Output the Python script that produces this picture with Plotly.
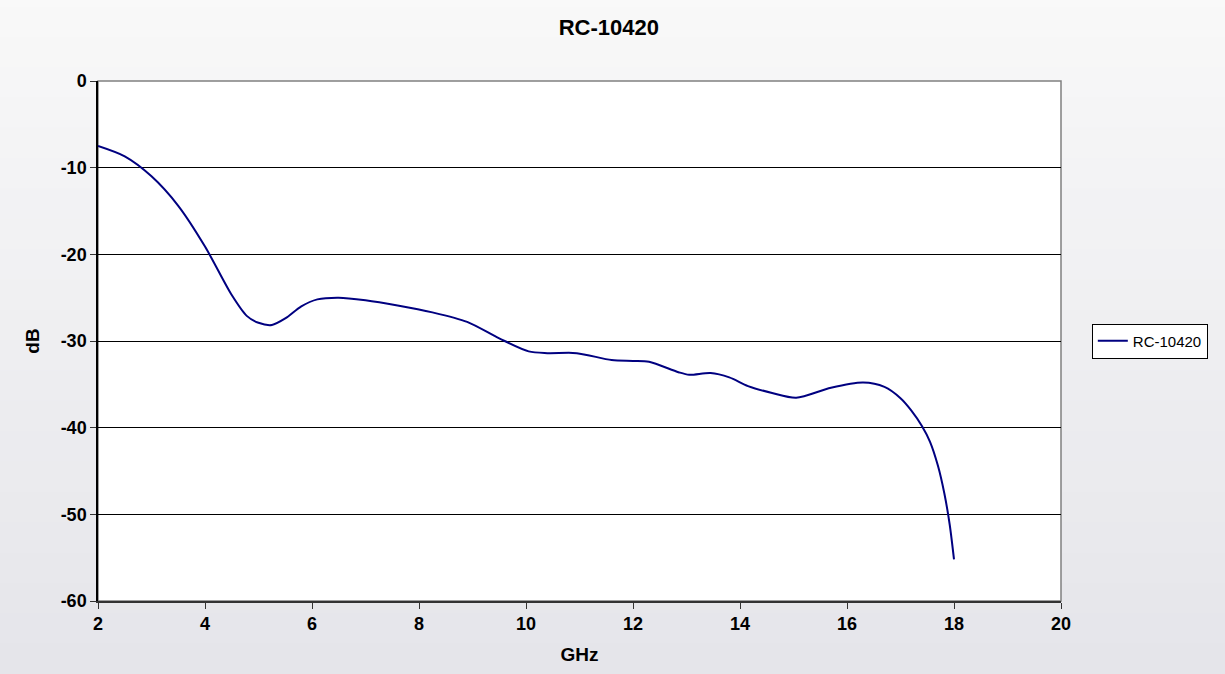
import plotly.graph_objects as go

ghz = [2.0, 2.5, 3.0, 3.5, 4.0, 4.5, 4.78, 5.0, 5.25, 5.5, 5.8, 6.1, 6.5, 7.0, 7.6, 8.25, 8.9, 9.5,
       10.05, 10.4, 10.95, 11.6, 12.0, 12.3, 12.85, 13.05, 13.45, 13.8, 14.15, 14.6, 15.05, 15.7, 16.3, 16.7,
       17.0, 17.2, 17.4, 17.55, 17.7, 17.82, 17.92, 18.0]
db = [-7.5, -8.7, -11.0, -14.4, -19.1, -24.7, -27.1, -27.9, -28.15, -27.4, -26.0, -25.2, -25.0, -25.3,
      -25.9, -26.7, -27.8, -29.7, -31.2, -31.4, -31.4, -32.2, -32.3, -32.4, -33.6, -33.9, -33.7, -34.2, -35.2,
      -36.0, -36.55, -35.4, -34.8, -35.3, -36.6, -38.0, -39.8, -41.6, -44.4, -47.6, -51.2, -55.2]

x_ticks = [2, 4, 6, 8, 10, 12, 14, 16, 18, 20]
y_ticks = [0, -10, -20, -30, -40, -50, -60]
series_name = "RC-10420"
chart_title = "RC-10420"
x_title = "GHz"
y_title = "dB"

FONT = "Liberation Sans, Arial"

fig = go.Figure()
fig.add_trace(go.Scatter(x=ghz, y=db, mode="lines", name=series_name,
                         line=dict(color="#000080", width=2, shape="spline", smoothing=0.8)))

# background gradient bands
top = (249, 249, 249)
bot = (229, 229, 234)
n = 24
shapes = []
for i in range(n):
    t = i / (n - 1)
    c = tuple(int(top[k] + (bot[k] - top[k]) * t) for k in range(3))
    y1 = 1 - i / n
    y0 = 1 - (i + 1) / n
    shapes.append(dict(type="rect", xref="paper", yref="paper", x0=-0.2, x1=1.3,
                       y0=-0.2 + 1.4 * y0, y1=-0.2 + 1.4 * y1 + 0.002, layer="below",
                       fillcolor="rgb(%d,%d,%d)" % c, line=dict(width=0)))
shapes.append(dict(type="rect", xref="paper", yref="paper", x0=0, x1=1, y0=0, y1=1,
                   layer="below", fillcolor="white", line=dict(color="#808080", width=1.5)))

fig.update_layout(
    width=1225, height=674,
    margin=dict(l=98, r=164, t=81, b=71),
    paper_bgcolor="#ececf0",
    plot_bgcolor="rgba(0,0,0,0)",
    shapes=shapes,
    title=dict(text="<b>%s</b>" % chart_title, x=0.497, xanchor="center", y=0.96, yanchor="middle",
               font=dict(family=FONT, size=22, color="black")),
    font=dict(family=FONT, color="black"),
    showlegend=True,
    legend=dict(x=1.032, xanchor="left", y=0.5, yanchor="middle",
                bgcolor="white", bordercolor="black", borderwidth=1,
                font=dict(size=15, family=FONT),
                itemwidth=30, tracegroupgap=0),
    xaxis=dict(range=[2, 20], tickvals=x_ticks, ticktext=["<b>%d</b>" % v for v in x_ticks],
               showgrid=False, zeroline=False, showline=True, linecolor="#333333", linewidth=1.5,
               ticks="outside", ticklen=6, tickcolor="#333333",
               tickfont=dict(size=18, family=FONT),
               title=dict(text="<b>%s</b>" % x_title, font=dict(size=19), standoff=14)),
    yaxis=dict(range=[-60, 0], tickvals=y_ticks, ticktext=["<b>%d</b>" % v for v in y_ticks],
               showgrid=True, gridcolor="black", gridwidth=1, zeroline=False,
               showline=True, linecolor="black", linewidth=1.5,
               ticks="outside", ticklen=6, tickcolor="#333333",
               tickfont=dict(size=18, family=FONT),
               title=dict(text="<b>%s</b>" % y_title, font=dict(size=19), standoff=16)),
)

fig.write_html("out.html", config={"displayModeBar": False},
               post_script="document.body.style.margin='0';document.body.style.overflow='hidden';")
